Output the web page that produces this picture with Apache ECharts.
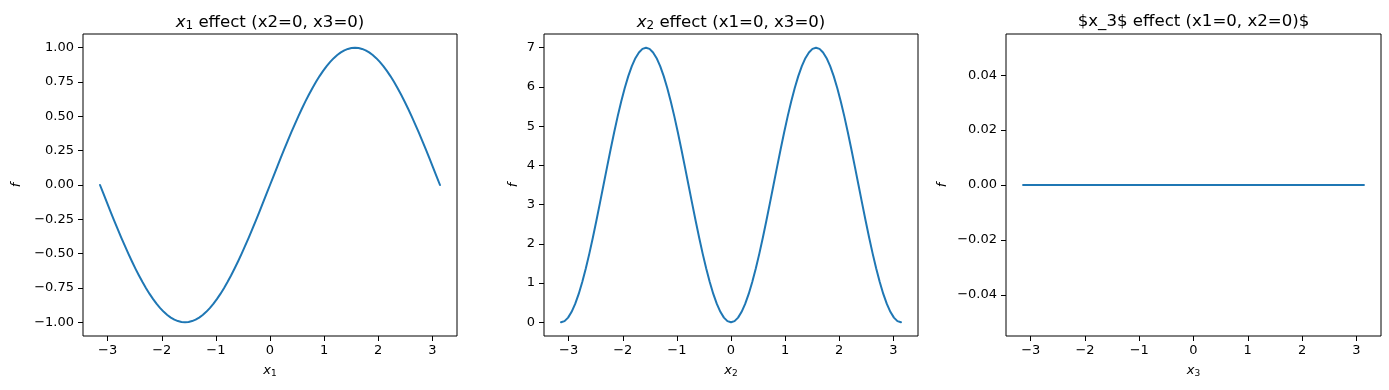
<!DOCTYPE html>
<html>
<head>
<meta charset="utf-8">
<script src="https://cdn.jsdelivr.net/npm/echarts@6/dist/echarts.min.js"></script>
<style>
  html, body { margin: 0; padding: 0; background: #fff; }
  #chart { width: 1389px; height: 390px; }
</style>
</head>
<body>
<div id="chart"></div>
<script>
// Sample positions along each input (shared by the three panels)
const xValues = [
  -3.1416, -3.0761, -3.0107, -2.9452, -2.8798, -2.8143, -2.7489, -2.6834, -2.6180, -2.5525, -2.4871, -2.4216,
  -2.3562, -2.2907, -2.2253, -2.1598, -2.0944, -2.0289, -1.9635, -1.8980, -1.8326, -1.7671, -1.7017, -1.6362,
  -1.5708, -1.5053, -1.4399, -1.3744, -1.3090, -1.2435, -1.1781, -1.1126, -1.0472, -0.9817, -0.9163, -0.8508,
  -0.7854, -0.7199, -0.6545, -0.5890, -0.5236, -0.4581, -0.3927, -0.3272, -0.2618, -0.1963, -0.1309, -0.0654,
  0,
  0.0654, 0.1309, 0.1963, 0.2618, 0.3272, 0.3927, 0.4581, 0.5236, 0.5890, 0.6545, 0.7199, 0.7854,
  0.8508, 0.9163, 0.9817, 1.0472, 1.1126, 1.1781, 1.2435, 1.3090, 1.3744, 1.4399, 1.5053, 1.5708,
  1.6362, 1.7017, 1.7671, 1.8326, 1.8980, 1.9635, 2.0289, 2.0944, 2.1598, 2.2253, 2.2907, 2.3562,
  2.4216, 2.4871, 2.5525, 2.6180, 2.6834, 2.7489, 2.8143, 2.8798, 2.9452, 3.0107, 3.0761, 3.1416];

// f values
const fX1 = [
  0, -0.0654, -0.1305, -0.1951, -0.2588, -0.3214, -0.3827, -0.4423, -0.5, -0.5556, -0.6088, -0.6593,
  -0.7071, -0.7518, -0.7934, -0.8315, -0.866, -0.8969, -0.9239, -0.9469, -0.9659, -0.9808, -0.9914, -0.9979,
  -1, -0.9979, -0.9914, -0.9808, -0.9659, -0.9469, -0.9239, -0.8969, -0.866, -0.8315, -0.7934, -0.7518,
  -0.7071, -0.6593, -0.6088, -0.5556, -0.5, -0.4423, -0.3827, -0.3214, -0.2588, -0.1951, -0.1305, -0.0654,
  0,
  0.0654, 0.1305, 0.1951, 0.2588, 0.3214, 0.3827, 0.4423, 0.5, 0.5556, 0.6088, 0.6593, 0.7071,
  0.7518, 0.7934, 0.8315, 0.866, 0.8969, 0.9239, 0.9469, 0.9659, 0.9808, 0.9914, 0.9979, 1,
  0.9979, 0.9914, 0.9808, 0.9659, 0.9469, 0.9239, 0.8969, 0.866, 0.8315, 0.7934, 0.7518, 0.7071,
  0.6593, 0.6088, 0.5556, 0.5, 0.4423, 0.3827, 0.3214, 0.2588, 0.1951, 0.1305, 0.0654, 0];

const fX2 = [
  0, 0.030, 0.119, 0.266, 0.469, 0.723, 1.025, 1.369, 1.75, 2.161, 2.594, 3.043,
  3.5, 3.956, 4.406, 4.840, 5.25, 5.631, 5.975, 6.276, 6.531, 6.734, 6.880, 6.971,
  7, 6.971, 6.880, 6.734, 6.531, 6.276, 5.975, 5.631, 5.25, 4.840, 4.406, 3.956,
  3.5, 3.043, 2.594, 2.161, 1.75, 1.369, 1.025, 0.723, 0.469, 0.266, 0.119, 0.030,
  0,
  0.030, 0.119, 0.266, 0.469, 0.723, 1.025, 1.369, 1.75, 2.161, 2.594, 3.043, 3.5,
  3.956, 4.406, 4.840, 5.25, 5.631, 5.975, 6.276, 6.531, 6.734, 6.880, 6.971, 7,
  6.971, 6.880, 6.734, 6.531, 6.276, 5.975, 5.631, 5.25, 4.840, 4.406, 3.956, 3.5,
  3.043, 2.594, 2.161, 1.75, 1.369, 1.025, 0.723, 0.469, 0.266, 0.119, 0.030, 0];

const fX3 = [
  0, 0, 0, 0, 0, 0, 0, 0, 0, 0, 0, 0, 0, 0, 0, 0, 0, 0, 0, 0, 0, 0, 0, 0,
  0, 0, 0, 0, 0, 0, 0, 0, 0, 0, 0, 0, 0, 0, 0, 0, 0, 0, 0, 0, 0, 0, 0, 0,
  0,
  0, 0, 0, 0, 0, 0, 0, 0, 0, 0, 0, 0, 0, 0, 0, 0, 0, 0, 0, 0, 0, 0, 0, 0,
  0, 0, 0, 0, 0, 0, 0, 0, 0, 0, 0, 0, 0, 0, 0, 0, 0, 0, 0, 0, 0, 0, 0, 0];

// Tick labels
const xTicks = [-3, -2, -1, 0, 1, 2, 3];
const y1Ticks = [-1, -0.75, -0.5, -0.25, 0, 0.25, 0.5, 0.75, 1];
const y2Ticks = [0, 1, 2, 3, 4, 5, 6, 7];
const y3Ticks = [-0.04, -0.02, 0, 0.02, 0.04];

// Titles and axis names
const titles = [
  '{i|x}{s|1} effect (x2=0, x3=0)',
  '{i|x}{s|2} effect (x1=0, x3=0)',
  '$x_3$ effect (x1=0, x2=0)$'
];
const xNames = ['{i|x}{s|1}', '{i|x}{s|2}', '{i|x}{s|3}'];

const FONT = 'DejaVu Sans';
const BLUE = '#1f77b4';
const fmtMinus = s => s.replace('-', '\u2212');

const grids = [
  { left: 83, top: 34, width: 374, height: 302 },
  { left: 544, top: 34, width: 374, height: 302 },
  { left: 1006, top: 34, width: 375, height: 302 }
];
const yRanges = [[-1.1, 1.1], [-0.35, 7.35], [-0.055, 0.055]];
const yTickSets = [y1Ticks, y2Ticks, y3Ticks];
const yFmt = [v => fmtMinus(v.toFixed(2)), v => fmtMinus(String(v)), v => fmtMinus(v.toFixed(2))];
const yNameGaps = [60, 24, 57];
const seriesData = [fX1, fX2, fX3];

const richText = (size) => ({
  i: { fontFamily: FONT, fontStyle: 'italic', fontSize: size, color: '#000' },
  s: { fontFamily: FONT, fontSize: Math.round(size * 0.7), color: '#000', padding: [Math.round(size * 0.45), 0, 0, 0] }
});

const option = {
  animation: false,
  backgroundColor: '#fff',
  title: grids.map((g, i) => ({
    text: titles[i],
    left: g.left + g.width / 2 - 5,
    top: 8,
    textAlign: 'center',
    textStyle: { fontFamily: FONT, fontSize: 16.6, fontWeight: 'normal', color: '#000', rich: richText(16.6) }
  })),
  grid: grids.map(g => Object.assign({ show: true, borderColor: '#000', borderWidth: 1, backgroundColor: 'transparent' }, g)),
  xAxis: grids.map((g, i) => ({
    type: 'value',
    gridIndex: i,
    position: 'bottom',
    min: -3.4558,
    max: 3.4558,
    name: xNames[i],
    nameLocation: 'middle',
    nameGap: 27,
    nameTextStyle: { fontFamily: FONT, fontSize: 13, color: '#000', rich: richText(13) },
    axisLine: { show: false, onZero: false },
    axisTick: { show: true, length: 5, lineStyle: { color: '#000', width: 1 }, customValues: xTicks },
    axisLabel: { fontFamily: FONT, fontSize: 13, color: '#000', margin: 8, customValues: xTicks,
      formatter: v => fmtMinus(String(v)) },
    splitLine: { show: false }
  })),
  yAxis: grids.map((g, i) => ({
    type: 'value',
    gridIndex: i,
    position: 'left',
    min: yRanges[i][0],
    max: yRanges[i][1],
    name: 'f',
    nameLocation: 'middle',
    nameRotate: 90,
    nameGap: yNameGaps[i],
    nameTextStyle: { fontFamily: FONT, fontStyle: 'italic', fontSize: 13, color: '#000' },
    axisLine: { show: false, onZero: false },
    axisTick: { show: true, length: 5, lineStyle: { color: '#000', width: 1 }, customValues: yTickSets[i] },
    axisLabel: { fontFamily: FONT, fontSize: 13, color: '#000', margin: 9, customValues: yTickSets[i],
      formatter: yFmt[i] },
    splitLine: { show: false }
  })),
  series: seriesData.map((d, i) => ({
    type: 'line',
    xAxisIndex: i,
    yAxisIndex: i,
    data: xValues.map((x, k) => [x, d[k]]),
    showSymbol: false,
    smooth: false,
    lineStyle: { color: BLUE, width: 2, join: 'round', cap: 'round' },
    itemStyle: { color: BLUE }
  }))
};

const chart = echarts.init(document.getElementById('chart'), null, { renderer: 'canvas' });
chart.setOption(option);
</script>
</body>
</html>
